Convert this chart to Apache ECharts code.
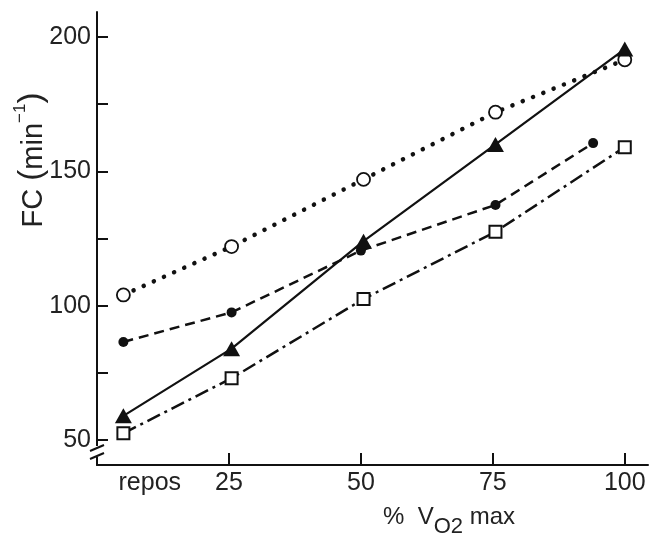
<!DOCTYPE html>
<html>
<head>
<meta charset="utf-8">
<script src="https://cdn.jsdelivr.net/npm/echarts@6/dist/echarts.min.js"></script>
<style>
  html, body { margin: 0; padding: 0; background: #fff; }
  #container { width: 653px; height: 538px; }
</style>
</head>
<body>
<div id="container"></div>
<script>
;(function() {

  // % VO2 max positions (repos drawn near 5)
  var xLevels = [5, 25.5, 50.5, 75.5, 100]
  var xFilled = [5, 25.5, 50, 75.5, 94]

  // FC values (min-1)
  var fcOpen = [104, 122, 147, 172, 191.5]
  var fcFilled = [86.5, 97.5, 120.5, 137.5, 160.5]
  var fcTriangle = [59, 84, 124, 160, 195.5]
  var fcSquare = [52.5, 73, 102.5, 127.5, 159]

  // axis ticks and labels
  var xTickValues = [25, 50, 75, 100]
  var xLabelValues = [10, 25, 50, 75, 100]
  var xLabelTexts = ['repos', '25', '50', '75', '100']
  var yTickValues = [50, 75, 100, 125, 150, 175, 200]
  var yLabelValues = [50, 100, 150, 200]

  var font = 'Liberation Sans'
  var ink = '#111'

  function pairs(xs, ys) {
    var out = []
    for (var i = 0; i < ys.length; i++) out.push([xs[i], ys[i]])
    return out
  }

  var dom = document.getElementById('container')
  var myChart = echarts.init(dom)

  var option = {
    animation: false,
    backgroundColor: '#fff',
    grid: { left: 97, right: 5, top: 12, bottom: 73, containLabel: false, outerBoundsMode: 'none' },
    xAxis: {
      type: 'value',
      min: 0,
      max: 104.4,
      axisLine: { lineStyle: { color: ink, width: 2 } },
      axisTick: { customValues: xTickValues, inside: true, length: 12, lineStyle: { color: ink, width: 2 } },
      axisLabel: {
        customValues: xLabelValues,
        color: '#222', fontSize: 25, fontFamily: font, margin: 6,
        formatter: function(v) {
          var i = xLabelValues.indexOf(v)
          return i >= 0 ? xLabelTexts[i] : ''
        }
      },
      splitLine: { show: false }
    },
    yAxis: {
      type: 'value',
      min: 40.7,
      max: 209.3,
      axisLine: { show: true, lineStyle: { color: ink, width: 2 } },
      axisTick: { show: true, customValues: yTickValues, inside: true, length: 11, lineStyle: { color: ink, width: 2 } },
      axisLabel: {
        customValues: yLabelValues,
        color: '#222', fontSize: 25, fontFamily: font, margin: 6,
        padding: [0, 0, 8, 0]
      },
      splitLine: { show: false }
    },
    graphic: [
      {
        type: 'text',
        x: 30, y: 160,
        rotation: Math.PI / 2,
        style: {
          text: '{n|FC }{p|(}{n|min}{s|−1}{p|)}',
          align: 'center', verticalAlign: 'middle',
          fill: '#222',
          rich: {
            n: { fontSize: 29, fontFamily: font, lineHeight: 36, verticalAlign: 'bottom' },
            p: { fontSize: 33, fontFamily: font, lineHeight: 36, verticalAlign: 'bottom' },
            s: { fontSize: 17, fontFamily: font, lineHeight: 36, verticalAlign: 'top' }
          }
        }
      },
      {
        type: 'text',
        x: 383, y: 502,
        style: {
          text: '{n|%  V}{s|O2}{n| max}',
          fill: '#222',
          rich: {
            n: { fontSize: 24, fontFamily: font, lineHeight: 36, verticalAlign: 'bottom', padding: [0, 0, 9, 0] },
            s: { fontSize: 22, fontFamily: font, lineHeight: 36, verticalAlign: 'bottom' }
          }
        }
      },
      // axis break on the y axis
      { type: 'rect', shape: { x: 92, y: 446, width: 12, height: 11 }, style: { fill: '#fff' }, z: 100 },
      { type: 'line', shape: { x1: 90, y1: 451, x2: 104, y2: 445 }, style: { stroke: ink, lineWidth: 2 }, z: 101 },
      { type: 'line', shape: { x1: 90, y1: 459, x2: 104, y2: 453 }, style: { stroke: ink, lineWidth: 2 }, z: 101 }
    ],
    series: [
      {
        name: 'open',
        type: 'line',
        data: pairs(xLevels, fcOpen),
        symbol: 'circle', symbolSize: 13,
        itemStyle: { color: '#fff', borderColor: ink, borderWidth: 1.8 },
        lineStyle: { color: ink, width: 4.5, type: [0.1, 11], cap: 'round' }
      },
      {
        name: 'filled',
        type: 'line',
        data: pairs(xFilled, fcFilled),
        symbol: 'circle', symbolSize: 10,
        itemStyle: { color: ink, borderWidth: 0 },
        lineStyle: { color: ink, width: 2.5, type: [10, 6] }
      },
      {
        name: 'square',
        type: 'line',
        data: pairs(xLevels, fcSquare),
        symbol: 'rect', symbolSize: 12,
        itemStyle: { color: '#fff', borderColor: ink, borderWidth: 2 },
        lineStyle: { color: ink, width: 2.5, type: [14, 5, 3, 5] }
      },
      {
        name: 'triangle',
        type: 'line',
        data: pairs(xLevels, fcTriangle),
        symbol: 'triangle', symbolSize: [17, 15],
        itemStyle: { color: ink, borderWidth: 0 },
        lineStyle: { color: ink, width: 2.2 }
      }
    ]
  }

  myChart.setOption(option, true)
})()
</script>
</body>
</html>
